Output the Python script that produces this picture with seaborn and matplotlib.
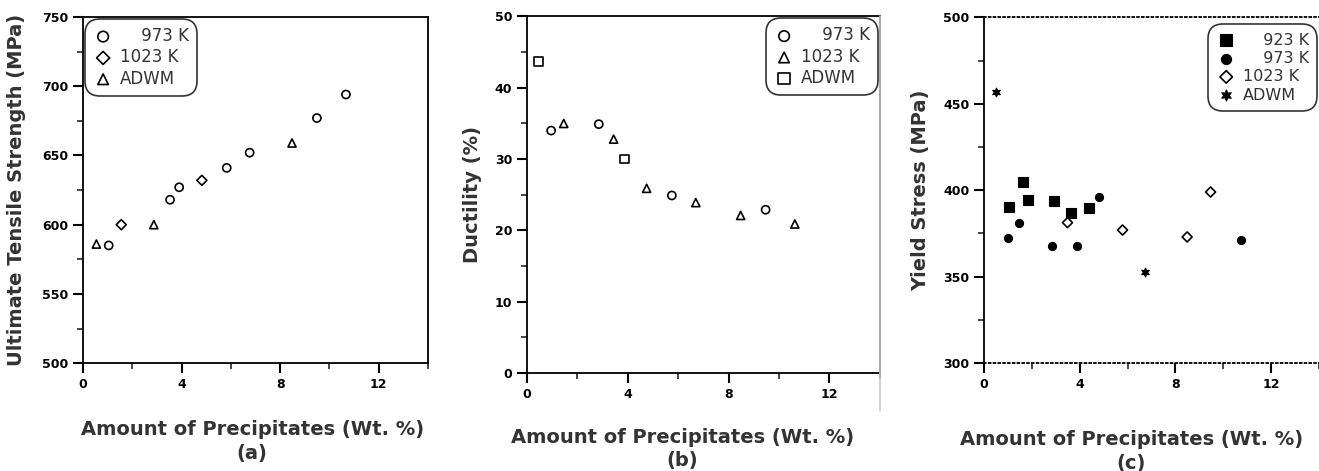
import pandas as pd
import matplotlib.pyplot as plt
import seaborn as sns
from matplotlib.ticker import MultipleLocator
from matplotlib.lines import Line2D

# Datos
# (a) Ultimate tensile strength
a_973_x = [1.04, 3.53, 3.90, 5.83, 6.76, 9.49, 10.67]
a_973_y = [585, 618, 627, 641, 652, 677, 694]
a_1023_x = [1.55, 4.82]
a_1023_y = [600, 632]
a_adwm_x = [0.54, 2.87, 8.48]
a_adwm_y = [586, 600, 659]

# (b) Ductility
b_973_x = [0.96, 2.85, 5.75, 9.47]
b_973_y = [34.0, 34.9, 24.9, 22.9]
b_1023_x = [1.46, 3.44, 4.75, 6.70, 8.48, 10.63]
b_1023_y = [35.0, 32.8, 25.9, 23.9, 22.1, 20.9]
b_adwm_x = [0.46, 3.87]
b_adwm_y = [43.7, 30.0]

# (c) Yield stress
c_923_x = [1.04, 1.62, 1.85, 2.92, 3.63, 4.40]
c_923_y = [390.6, 404.6, 394.4, 393.8, 386.7, 389.6]
c_973_x = [1.48, 1.00, 2.84, 3.88, 10.73, 4.81]
c_973_y = [381.3, 372.6, 368.0, 368.0, 371.3, 396.3]
c_1023_x = [3.49, 5.79, 8.49, 9.47]
c_1023_y = [381.3, 377.0, 373.0, 399.0]
c_adwm_x = [0.52, 6.73]
c_adwm_y = [456.6, 353.0]

xlabel = "Amount of Precipitates (Wt. %)"
texto = "#333333"
star6 = (6, 1, 0)

sns.set_style("white")
plt.rcParams["font.family"] = ["DejaVu Sans"]

fig = plt.figure(figsize=(13.19, 4.71), dpi=100)
ax_a = fig.add_axes([0.063, 0.229, 0.2615, 0.735])
ax_b = fig.add_axes([0.3995, 0.208, 0.2675, 0.757])
ax_c = fig.add_axes([0.746, 0.229, 0.254, 0.734])

# separador gris
fig.add_artist(Line2D([0.6675, 0.6675], [0.127, 0.965], color="#c8c8c8", lw=1.2))


def serie(ax, x, y, label, marker, filled=False, s=34):
    df = pd.DataFrame({"x": x, "y": y})
    if filled:
        sns.scatterplot(data=df, x="x", y="y", ax=ax, marker=marker, color="black",
                        edgecolor="black", s=s, linewidth=0.8, label=label)
    else:
        sns.scatterplot(data=df, x="x", y="y", ax=ax, marker=marker, color="black",
                        facecolor="none", edgecolor="black", s=s, linewidth=1.2, label=label)


def formato(ax, ylim, ymaj, ymin, ylabel, sub, lab_x, lab_y, ylab_x):
    ax.set_xlim(0, 14)
    ax.set_ylim(*ylim)
    ax.xaxis.set_major_locator(MultipleLocator(4))
    ax.xaxis.set_minor_locator(MultipleLocator(2))
    ax.yaxis.set_major_locator(MultipleLocator(ymaj))
    ax.yaxis.set_minor_locator(MultipleLocator(ymin))
    ax.tick_params(axis="both", which="major", direction="out", length=7, width=1.5,
                   bottom=True, left=True, labelsize=9, colors="black")
    ax.tick_params(axis="both", which="minor", direction="out", length=4, width=1.2,
                   bottom=True, left=True)
    for t in ax.get_xticklabels() + ax.get_yticklabels():
        t.set_fontweight("bold")
    for sp in ax.spines.values():
        sp.set_color("black")
        sp.set_linewidth(1.3)
    ax.set_xlabel(xlabel + "\n" + sub, fontsize=14, fontweight="bold", color=texto,
                  linespacing=1.3)
    ax.xaxis.set_label_coords(lab_x, lab_y)
    ax.set_ylabel(ylabel, fontsize=14, fontweight="bold", color=texto)
    ax.yaxis.set_label_coords(ylab_x, 0.5)


def leyenda(ax, loc, anchor, mscale=1.3):
    leg = ax.legend(loc=loc, bbox_to_anchor=anchor, fontsize=12, frameon=True,
                    fancybox=True, edgecolor="black", markerscale=mscale,
                    handletextpad=0.4, borderpad=0.3, labelspacing=0.2,
                    handlelength=1.2, borderaxespad=0.3)
    leg.get_frame().set_linewidth(1.2)
    leg.get_frame().set_boxstyle("round,pad=0.2,rounding_size=0.9")
    for t in leg.get_texts():
        t.set_color(texto)
    return leg


# (a)
serie(ax_a, a_973_x, a_973_y, "\u2007\u2007973 K", "o")
serie(ax_a, a_1023_x, a_1023_y, "1023 K", "D", s=26)
serie(ax_a, a_adwm_x, a_adwm_y, "ADWM", "^")
formato(ax_a, (500, 750), 50, 25, "Ultimate Tensile Strength (MPa)", "(a)",
        0.49, -0.165, -0.165)
leyenda(ax_a, "upper left", (0.0, 1.0))

# (b)
serie(ax_b, b_973_x, b_973_y, "\u2007\u2007973 K", "o")
serie(ax_b, b_1023_x, b_1023_y, "1023 K", "^")
serie(ax_b, b_adwm_x, b_adwm_y, "ADWM", "s", s=40)
formato(ax_b, (0, 50), 10, 5, "Ductility (%)", "(b)", 0.44, -0.154, -0.128)
leyenda(ax_b, "upper right", (1.0, 1.0))

# (c)
serie(ax_c, c_923_x, c_923_y, "\u2007\u2007923 K", "s", filled=True, s=55)
serie(ax_c, c_973_x, c_973_y, "\u2007\u2007973 K", "o", filled=True, s=34)
serie(ax_c, c_1023_x, c_1023_y, "1023 K", "D", s=26)
serie(ax_c, c_adwm_x, c_adwm_y, "ADWM", star6, filled=True, s=40)
formato(ax_c, (300, 500), 50, 25, "Yield Stress (MPa)", "(c)", 0.44, -0.194, -0.16)
ax_c.spines["right"].set_visible(False)
ax_c.spines["top"].set_linestyle(":")
ax_c.spines["bottom"].set_linestyle(":")
leg_c = leyenda(ax_c, "upper right", (1.0, 0.985), mscale=1.25)
for t in leg_c.get_texts():
    t.set_fontsize(11.5)

fig.savefig("out.png", dpi=100)
